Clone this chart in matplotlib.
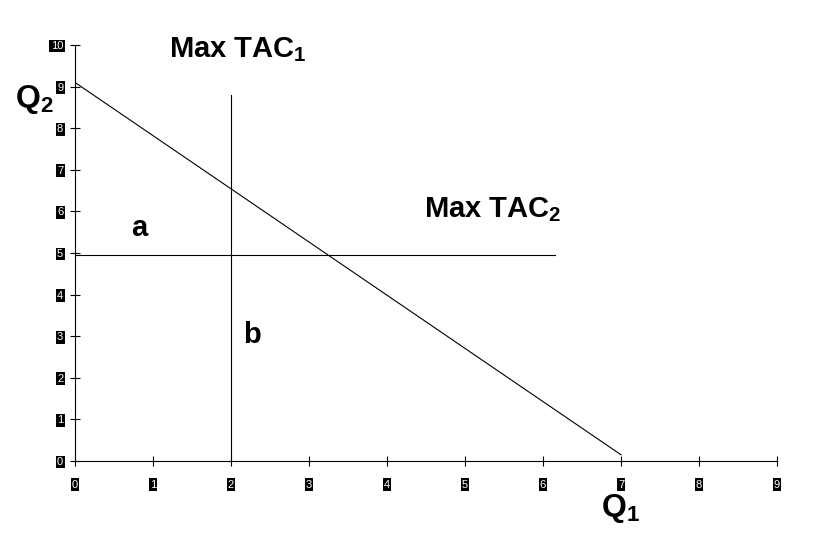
import matplotlib.pyplot as plt

# Data
frontier_q1 = [0, 7]
frontier_q2 = [9.1, 0.15]
max_tac1_q1 = 2
max_tac1_top = 8.8
max_tac2_q2 = 4.95
max_tac2_right = 6.15
x_ticks = list(range(0, 10))
y_ticks = list(range(0, 11))

plt.rcParams["font.family"] = ["Liberation Sans", "DejaVu Sans"]
plt.rcParams["mathtext.fontset"] = "custom"
plt.rcParams["mathtext.rm"] = "Liberation Sans"
plt.rcParams["mathtext.bf"] = "Liberation Sans:bold"

fig = plt.figure(figsize=(8.37, 5.37), dpi=100)
ax = fig.add_axes([75 / 837, 1 - 461 / 537, (777 - 75) / 837, (461 - 45) / 537])

ax.plot(frontier_q1, frontier_q2, color="black", lw=0.8)
ax.plot([max_tac1_q1, max_tac1_q1], [0, max_tac1_top], color="black", lw=0.8)
ax.plot([0, max_tac2_right], [max_tac2_q2, max_tac2_q2], color="black", lw=0.8)

ax.set_xlim(0, 9)
ax.set_ylim(0, 10)
for side in ("top", "right"):
    ax.spines[side].set_visible(False)
for side in ("left", "bottom"):
    ax.spines[side].set_linewidth(0.8)

ax.set_xticks(x_ticks)
ax.set_yticks(y_ticks)
ax.set_xticklabels([str(v) for v in x_ticks])
ax.set_yticklabels([str(v) for v in y_ticks])
ax.tick_params(direction="inout", length=7, width=0.8, labelsize=8,
               labelcolor="white")
ax.tick_params(axis="x", pad=10)
ax.tick_params(axis="y", pad=5)
for lab in ax.get_xticklabels() + ax.get_yticklabels():
    lab.set_bbox(dict(facecolor="black", edgecolor="none", pad=1.0))

bold = dict(fontweight="bold", color="black", clip_on=False)
ax.text(2.09, 9.9, r"Max TAC$_\mathbf{1}$", fontsize=21, ha="center", va="center", **bold)
ax.text(5.35, 6.05, r"Max TAC$_\mathbf{2}$", fontsize=21, ha="center", va="center", **bold)
ax.text(0.83, 5.6, "a", fontsize=21, ha="center", va="center", **bold)
ax.text(2.27, 3.03, "b", fontsize=21, ha="center", va="center", **bold)
ax.text(-0.52, 8.7, r"Q$_\mathbf{2}$", fontsize=23, ha="center", va="center", **bold)
ax.text(6.99, -1.15, r"Q$_\mathbf{1}$", fontsize=23, ha="center", va="center", **bold)

fig.savefig("out.png", dpi=100)
